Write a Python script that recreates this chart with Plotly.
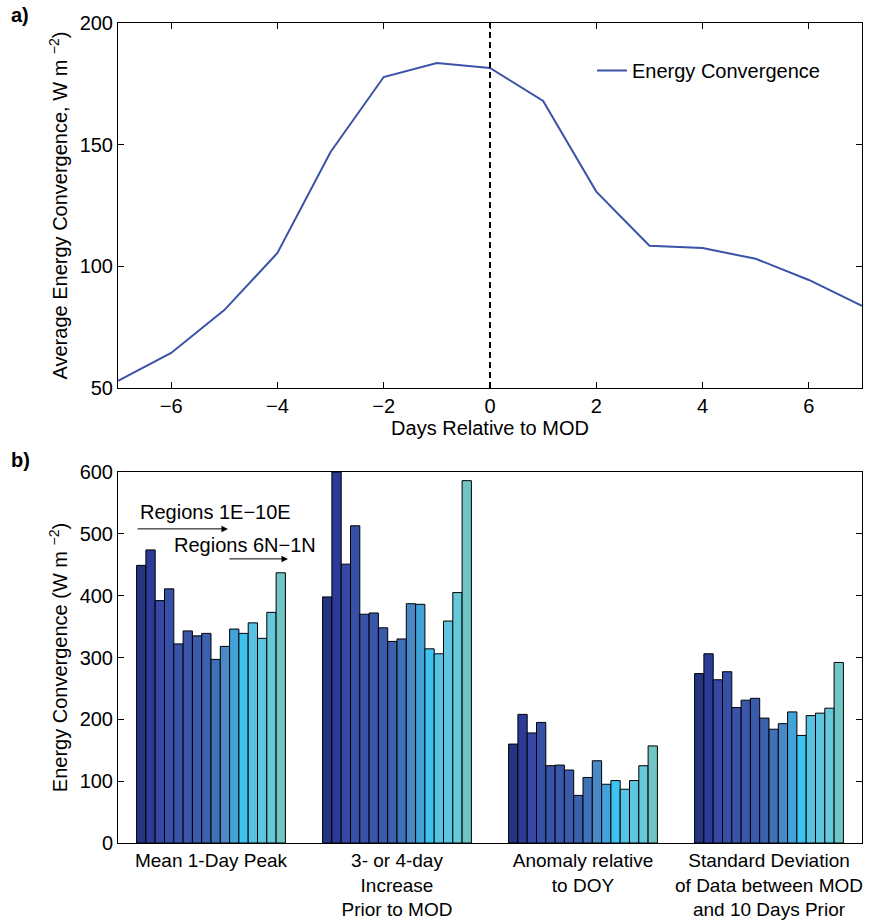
import plotly.graph_objects as go

# ---------------- data ----------------
days = [-7, -6, -5, -4, -3, -2, -1, 0, 1, 2, 3, 4, 5, 6, 7]
energy_conv = [52.9, 64.4, 82.0, 105.5, 147.0, 177.8, 183.6, 181.5, 168.0,
               130.7, 108.5, 107.5, 103.1, 94.4, 83.8]

categories = [1, 2, 3, 4]
category_labels = ["Mean 1-Day Peak",
                   "3- or 4-day<br>Increase<br>Prior to MOD",
                   "Anomaly relative<br>to DOY",
                   "Standard Deviation<br>of Data between MOD<br>and 10 Days Prior"]

regions = ["1E", "2E", "3E", "4E", "5E", "6E", "7E", "8E", "9E", "10E",
           "6N", "5N", "4N", "3N", "2N", "1N"]

mean_peak = [449, 474, 392, 411, 322, 343, 335, 339, 297, 318,
             346, 339, 356, 331, 373, 437]
increase = [398, 600, 451, 513, 370, 372, 348, 326, 330, 387,
            386, 314, 306, 359, 405, 586]
anomaly = [160, 208, 178, 195, 125, 126, 118, 77, 106, 133,
           95, 101, 87, 101, 125, 157]
std_dev = [274, 306, 264, 277, 219, 231, 234, 202, 184, 193,
           212, 174, 206, 210, 218, 292]

region_colors = ["#253481", "#2b3b97", "#3747a4", "#3550a6", "#3953a8", "#3a56a9",
                 "#3a5bab", "#3b61ae", "#3f71b8", "#4889c6", "#42a2da", "#3cc3f0",
                 "#58c2e2", "#5fc6df", "#66c9da", "#71c6c5"]

# ---------------- figure ----------------
W, H = 872, 921
FONT = "Liberation Sans, Arial, Helvetica, sans-serif"
FS = 20

fig = go.Figure()

fig.add_trace(go.Scatter(x=days, y=energy_conv, mode="lines",
                         name="Energy Convergence",
                         line=dict(color="#3a53a8", width=2),
                         xaxis="x", yaxis="y"))

for i, reg in enumerate(regions):
    vals = [mean_peak[i], increase[i], anomaly[i], std_dev[i]]
    fig.add_trace(go.Bar(x=categories, y=vals, name=reg, showlegend=False,
                         marker=dict(color=region_colors[i],
                                     line=dict(color="black", width=1)),
                         xaxis="x2", yaxis="y2"))

def px_x(p):
    return p / W

def px_y(p):
    return 1 - p / H

axis_common = dict(showline=True, linecolor="black", linewidth=1, mirror="ticks",
                   ticks="inside", ticklen=6, tickcolor="black", showgrid=False,
                   zeroline=False, automargin=False,
                   tickfont=dict(size=FS, color="black", family=FONT))

fig.update_layout(
    width=W, height=H,
    margin=dict(l=0, r=0, t=0, b=0, autoexpand=False),
    paper_bgcolor="white", plot_bgcolor="white",
    font=dict(family=FONT, color="black", size=FS),
    barmode="group", bargap=0.2, bargroupgap=0,
    xaxis=dict(domain=[px_x(118), px_x(862)], anchor="y", range=[-7, 7],
               tickvals=[-6, -4, -2, 0, 2, 4, 6],
               title=dict(text="Days Relative to MOD", standoff=1,
                          font=dict(size=FS)),
               **axis_common),
    yaxis=dict(domain=[px_y(388), px_y(23)], anchor="x", range=[50, 200],
               tickvals=[50, 100, 150, 200],
               title=dict(text="Average Energy Convergence, W m <sup>−2</sup>)", standoff=6,
                          font=dict(size=FS)),
               **axis_common),
    xaxis2=dict(domain=[px_x(118), px_x(862)], anchor="y2", range=[0.5, 4.5],
                tickvals=categories, ticktext=category_labels,
                showline=True, linecolor="black", linewidth=1, mirror=True,
                ticks="", showgrid=False, zeroline=False, automargin=False,
                tickfont=dict(size=19, color="black", family=FONT)),
    yaxis2=dict(domain=[px_y(843), px_y(472)], anchor="x2", range=[0, 600],
                tickvals=[0, 100, 200, 300, 400, 500, 600],
                title=dict(text="Energy Convergence (W m <sup>−2</sup>)", standoff=6,
                           font=dict(size=FS)),
                **axis_common),
    legend=dict(x=px_x(592), y=px_y(51), xanchor="left", yanchor="top",
                bgcolor="rgba(0,0,0,0)", borderwidth=0,
                font=dict(size=FS, family=FONT)),
    shapes=[dict(type="line", xref="x", yref="y domain", x0=0, x1=0, y0=0, y1=1,
                 line=dict(color="black", width=2, dash="6px,4px"))],
)

annotations = [
    dict(text="<b>a)</b>", xref="paper", yref="paper", x=px_x(9), y=px_y(15),
         xanchor="left", yanchor="middle", showarrow=False, font=dict(size=FS)),
    dict(text="<b>b)</b>", xref="paper", yref="paper", x=px_x(9), y=px_y(460),
         xanchor="left", yanchor="middle", showarrow=False, font=dict(size=FS)),
    dict(text="Regions 1E−10E", xref="x2", yref="y2", x=0.61, y=536,
         xanchor="left", yanchor="middle", showarrow=False, font=dict(size=FS)),
    dict(text="Regions 6N−1N", xref="x2", yref="y2", x=0.79, y=482,
         xanchor="left", yanchor="middle", showarrow=False, font=dict(size=FS)),
    dict(text="", xref="x2", yref="y2", x=1.091, y=508, ax=0.597, ay=508,
         axref="x2", ayref="y2", showarrow=True, arrowhead=2, arrowsize=1.3,
         arrowwidth=1, arrowcolor="black"),
    dict(text="", xref="x2", yref="y2", x=1.414, y=459.5, ax=1.091, ay=459.5,
         axref="x2", ayref="y2", showarrow=True, arrowhead=2, arrowsize=1.3,
         arrowwidth=1, arrowcolor="black"),
]
fig.update_layout(annotations=annotations)

fig.write_html("out.html", config={"displayModeBar": False},
               post_script="document.body.style.margin='0';document.body.style.padding='0';")
